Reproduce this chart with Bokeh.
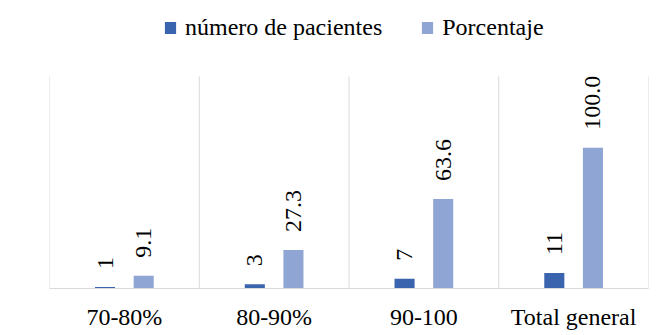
from bokeh.plotting import figure
from bokeh.models import (ColumnDataSource, Range1d, FixedTicker, Legend,
                          LegendItem, LabelSet)
from bokeh.core.properties import value
from bokeh.embed import file_html
from bokeh.resources import INLINE

# Data
categories = ["70-80%", "80-90%", "90-100", "Total general"]
pacientes = [1, 3, 7, 11]
porcentaje = [9.1, 27.3, 63.6, 100.0]
pacientes_labels = ["1", "3", "7", "11"]
porcentaje_labels = ["9.1", "27.3", "63.6", "100.0"]

DARK = "#3A64AE"
LIGHT = "#8FA5D4"
GRID = "#D9D9D9"
FONT = "Liberation Serif"

n = len(categories)
centers = [i + 0.5 for i in range(n)]
offset = 0.129
bar_w = 0.134
y_top = 150.5      # top of the plotting area (separators end here)
y_view = 204.5     # extra headroom above it holds the legend

src_a = ColumnDataSource(dict(x=[c - offset for c in centers], y=pacientes,
                              lab=pacientes_labels))
src_b = ColumnDataSource(dict(x=[c + offset for c in centers], y=porcentaje,
                              lab=porcentaje_labels))

p = figure(width=667, height=335, output_backend="svg", toolbar_location=None,
           x_range=Range1d(0, n), y_range=Range1d(0, y_view),
           min_border_left=49, min_border_right=19, min_border_top=0,
           min_border_bottom=47)
p.outline_line_color = None
p.yaxis.visible = False
p.grid.visible = False

# vertical separators between categories, up to the top of the plotting area
bounds = list(range(n + 1))
p.segment(x0=bounds, y0=[0] * len(bounds), x1=bounds, y1=[y_top] * len(bounds),
          line_color=GRID, line_width=1)

ax = p.xaxis[0]
ax.ticker = FixedTicker(ticks=centers)
ax.major_label_overrides = {c: cat for c, cat in zip(centers, categories)}
ax.axis_line_color = GRID
ax.major_tick_line_color = None
ax.minor_tick_line_color = None
ax.major_label_text_font = FONT
ax.major_label_text_font_size = "24px"
ax.major_label_text_color = "#000000"
ax.major_label_standoff = 9

r_a = p.vbar(x="x", top="y", width=bar_w, source=src_a, fill_color=DARK,
             line_color=None)
r_b = p.vbar(x="x", top="y", width=bar_w, source=src_b, fill_color=LIGHT,
             line_color=None)

for src in (src_a, src_b):
    labels = LabelSet(x="x", y="y", text="lab", source=src, angle=1.5708,
                      text_align="left", text_baseline="middle",
                      x_offset=0, y_offset=18, text_font=value(FONT),
                      text_font_size=value("24px"), text_color="#000000")
    p.add_layout(labels)

legend = Legend(items=[LegendItem(label="número de pacientes", renderers=[r_a]),
                       LegendItem(label="Porcentaje", renderers=[r_b])],
                orientation="horizontal", location=(114, 247),
                padding=0, margin=0, spacing=38, label_standoff=8,
                glyph_width=14, glyph_height=15,
                label_text_font=FONT, label_text_font_size="24px",
                label_text_color="#000000",
                border_line_color=None, background_fill_alpha=0)
p.add_layout(legend, "center")

open("out.html", "w").write(file_html(p, INLINE))
